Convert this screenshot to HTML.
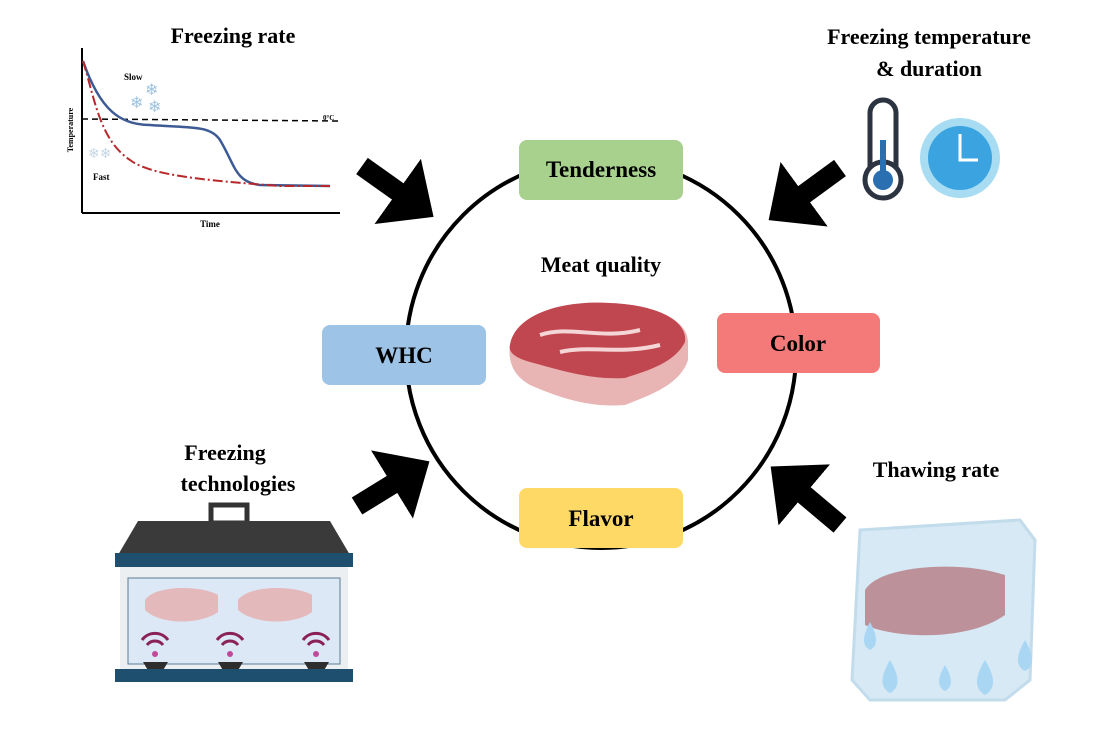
<!DOCTYPE html>
<html><head><style>
body{margin:0;background:#fff;width:1100px;height:726px;overflow:hidden;font-family:"Liberation Serif",serif}
</style></head><body>
<svg width="1100" height="726" viewBox="0 0 1100 726" xmlns="http://www.w3.org/2000/svg" font-family="Liberation Serif, serif" font-weight="bold">
<defs>
<marker id="ah" markerWidth="4" markerHeight="4" refX="1" refY="2" orient="auto" markerUnits="strokeWidth"><path d="M0,0 L2.2,2 L0,4z" fill="#000"/></marker>
</defs>
<circle cx="601" cy="353" r="195" fill="none" stroke="#000" stroke-width="4"/>
<g stroke="#000" stroke-width="20" marker-end="url(#ah)">
<line x1="362" y1="166" x2="414" y2="203"/>
<line x1="840" y1="168" x2="788" y2="206"/>
<line x1="357" y1="506" x2="409" y2="474"/>
<line x1="840" y1="525" x2="789" y2="482"/>
</g>
<rect x="519" y="140" width="164" height="60" rx="8" fill="#a9d18e"/>
<text x="601" y="177" font-size="23" text-anchor="middle">Tenderness</text>
<rect x="322" y="325" width="164" height="60" rx="8" fill="#9dc3e6"/>
<text x="404" y="363" font-size="23" text-anchor="middle">WHC</text>
<rect x="717" y="313" width="163" height="60" rx="8" fill="#f47a7a"/>
<text x="798" y="351" font-size="23" text-anchor="middle">Color</text>
<rect x="519" y="488" width="164" height="60" rx="8" fill="#ffd966"/>
<text x="601" y="526" font-size="23" text-anchor="middle">Flavor</text>
<text x="601" y="272" font-size="22" text-anchor="middle">Meat quality</text>
<path d="M510,345 C515,315 560,300 610,303 C660,305 688,322 688,342 L688,360 C680,385 650,395 625,405 C590,408 560,398 530,385 C512,375 508,360 510,345z" fill="#e8b4b4"/>
<path d="M510,345 C515,315 560,300 610,303 C660,305 688,322 685,342 C675,362 650,370 625,378 C590,380 560,370 530,362 C515,358 508,352 510,345z" fill="#c0464f"/>
<path d="M540,335 C570,325 600,340 640,330 M560,352 C590,345 620,355 660,345" stroke="#f4d6d6" stroke-width="4" fill="none"/>
<text x="233" y="43" font-size="22" text-anchor="middle">Freezing rate</text>
<g>
<line x1="82" y1="48" x2="82" y2="213" stroke="#000" stroke-width="2"/>
<line x1="82" y1="213" x2="340" y2="213" stroke="#000" stroke-width="2"/>
<line x1="82" y1="119" x2="340" y2="121" stroke="#000" stroke-width="1.5" stroke-dasharray="6,4"/>
<path d="M83,61 C100,110 120,125 150,125 C190,128 210,125 220,140 C235,165 235,182 260,185 L330,186" stroke="#3d5a94" stroke-width="2.5" fill="none"/>
<path d="M83,61 C95,100 100,140 130,160 C150,175 200,180 280,186 L330,186" stroke="#b8282b" stroke-width="2" fill="none" stroke-dasharray="10,3,2,3"/>
<text x="124" y="80" font-size="9">Slow</text>
<text x="93" y="180" font-size="9">Fast</text>
<text x="323" y="120" font-size="7">0°C</text>
<text x="210" y="227" font-size="9" text-anchor="middle">Time</text>
<text x="73" y="130" font-size="8" text-anchor="middle" transform="rotate(-90 73 130)">Temperature</text>
<text x="145" y="95" font-size="16" fill="#9ec3df" font-weight="normal">❄</text>
<text x="130" y="108" font-size="16" fill="#9ec3df" font-weight="normal">❄</text>
<text x="148" y="112" font-size="16" fill="#9ec3df" font-weight="normal">❄</text>
<text x="88" y="158" font-size="14" fill="#c7d6e4" font-weight="normal">❄❄</text>
</g>
<text x="929" y="44" font-size="22" text-anchor="middle">Freezing temperature</text>
<text x="929" y="76" font-size="22" text-anchor="middle">&amp; duration</text>
<rect x="870" y="100" width="26" height="80" rx="13" fill="#fff" stroke="#2b3440" stroke-width="5"/>
<circle cx="883" cy="180" r="18" fill="#fff" stroke="#2b3440" stroke-width="5"/>
<circle cx="883" cy="180" r="10" fill="#2a6fb0"/>
<rect x="880" y="140" width="6" height="40" fill="#2a6fb0"/>
<circle cx="960" cy="158" r="40" fill="#a8dcf2"/>
<circle cx="960" cy="158" r="32" fill="#3ba4e0"/>
<path d="M960,134 L960,160 L978,160" stroke="#fff" stroke-width="3" fill="none"/>
<text x="225" y="460" font-size="22" text-anchor="middle">Freezing</text>
<text x="238" y="491" font-size="22" text-anchor="middle">technologies</text>
<rect x="211" y="505" width="36" height="18" fill="none" stroke="#333" stroke-width="5"/>
<path d="M138,521 L330,521 L350,555 L118,555z" fill="#3a3a3a"/>
<rect x="115" y="553" width="238" height="14" fill="#1e4f6f"/>
<rect x="120" y="567" width="228" height="102" fill="#eceff2"/>
<rect x="128" y="578" width="212" height="86" fill="#dce8f5" stroke="#5a7b93"/>
<path d="M145,600 C155,585 200,585 218,595 L218,612 C200,625 160,625 145,610z" fill="#e4b9bc"/>
<path d="M238,600 C248,585 295,585 312,595 L312,612 C295,625 255,625 238,610z" fill="#e4b9bc"/>
<g fill="#2e2e2e"><path d="M143,662 L168,662 L162,672 L149,672z"/><path d="M218,662 L243,662 L237,672 L224,672z"/><path d="M304,662 L329,662 L323,672 L310,672z"/></g>
<g fill="none" stroke="#8a2258" stroke-width="3">
<path d="M147,645 a10,10 0 0 1 16,0 M142,640 a16,16 0 0 1 26,0"/>
<path d="M222,645 a10,10 0 0 1 16,0 M217,640 a16,16 0 0 1 26,0"/>
<path d="M308,645 a10,10 0 0 1 16,0 M303,640 a16,16 0 0 1 26,0"/>
</g>
<g fill="#c04a9a"><circle cx="155" cy="654" r="3"/><circle cx="230" cy="654" r="3"/><circle cx="316" cy="654" r="3"/></g>
<rect x="115" y="669" width="238" height="13" fill="#1e4f6f"/>
<text x="936" y="477" font-size="22" text-anchor="middle">Thawing rate</text>
<path d="M860,530 L1020,520 L1035,540 L1030,680 L1005,700 L870,700 L852,680z" fill="#d6e9f4" stroke="#c2dcec" stroke-width="3"/>
<path d="M865,590 C880,565 960,560 1005,575 L1005,615 C970,640 900,640 865,625z" fill="#b77a82" opacity="0.8"/>
<g fill="#a9d7f3">
<path d="M870,622 q-12,22 0,28 q12,-6 0,-28z"/>
<path d="M890,660 q-15,25 0,33 q15,-8 0,-33z"/>
<path d="M945,665 q-12,20 0,26 q12,-6 0,-26z"/>
<path d="M985,660 q-16,26 0,35 q16,-9 0,-35z"/>
<path d="M1025,640 q-14,24 0,31 q14,-7 0,-31z"/>
</g>
</svg>
</body></html>
